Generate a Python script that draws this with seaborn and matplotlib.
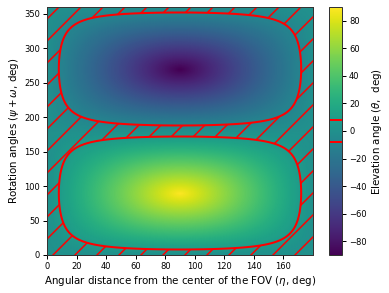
import numpy as np
import matplotlib
matplotlib.use("Agg")
import matplotlib.pyplot as plt
import seaborn as sns

sns.set_style("ticks")

DPI = 66
px = 72.0 / DPI   # one pixel in points

plt.rcParams['font.family'] = ['DejaVu Sans']
plt.rcParams['font.size'] = 8.4 * px
plt.rcParams['axes.labelsize'] = 10.2 * px
plt.rcParams['xtick.labelsize'] = 8.4 * px
plt.rcParams['ytick.labelsize'] = 8.4 * px
plt.rcParams['xtick.major.size'] = 4 * px
plt.rcParams['ytick.major.size'] = 4 * px
plt.rcParams['xtick.major.width'] = 1 * px
plt.rcParams['ytick.major.width'] = 1 * px
plt.rcParams['xtick.major.pad'] = 3 * px
plt.rcParams['ytick.major.pad'] = 3 * px
plt.rcParams['axes.labelpad'] = 3.4 * px
plt.rcParams['axes.linewidth'] = 1 * px
plt.rcParams['axes.edgecolor'] = '#333333'
plt.rcParams['text.color'] = 'black'
plt.rcParams['axes.labelcolor'] = 'black'
plt.rcParams['xtick.color'] = 'black'
plt.rcParams['ytick.color'] = 'black'
plt.rcParams['hatch.color'] = 'red'
plt.rcParams['hatch.linewidth'] = 1.5 * px

# grid of the chart
eta = np.linspace(0, 180, 361)          # angular distance from FOV center, deg
rot = np.linspace(0, 360, 721)          # rotation angle psi+omega, deg
limit_levels = [-8, 8]                  # elevation limits, deg
x_ticks = [0, 20, 40, 60, 80, 100, 120, 140, 160]
y_ticks = [0, 50, 100, 150, 200, 250, 300, 350]
cbar_ticks = [-80, -60, -40, -20, 0, 20, 40, 60, 80]

E, R = np.meshgrid(eta, rot)
elev = np.degrees(np.arcsin(np.sin(np.radians(E)) * np.sin(np.radians(R))))

W, H = 389, 293
fig = plt.figure(figsize=(W / DPI, H / DPI), dpi=DPI)
ax = fig.add_axes([47 / W, 1 - 255 / H, 266 / W, 248 / H])
cax = fig.add_axes([329 / W, 1 - 255 / H, 13 / W, 248 / H])
cmap = sns.color_palette("viridis", as_cmap=True)

mesh = ax.pcolormesh(eta, rot, elev, cmap=cmap, vmin=-90, vmax=90, shading='gouraud')
hatch = ax.contourf(eta, rot, elev, levels=limit_levels, colors='none', hatches=['/'])
hatch.set_edgecolor('red')
hatch.set_linewidth(0)
cs = ax.contour(eta, rot, elev, levels=limit_levels, colors='red',
                linewidths=2 * px, linestyles='solid')

ax.set_xlim(0, 180)
ax.set_ylim(0, 360)
ax.set_xticks(x_ticks)
ax.set_yticks(y_ticks)
ax.set_xlabel(r'Angular distance from the center of the FOV ($\eta$, deg)')
ax.set_ylabel(r'Rotation angles ($\psi + \omega$, deg)')

cbar = fig.colorbar(mesh, cax=cax)
cbar.set_ticks(cbar_ticks)
cbar.set_label(r'Elevation angle ($\theta$,  deg)')
cbar.add_lines(cs)
cbar.outline.set_linewidth(1 * px)

fig.savefig('out.png', dpi=DPI)
